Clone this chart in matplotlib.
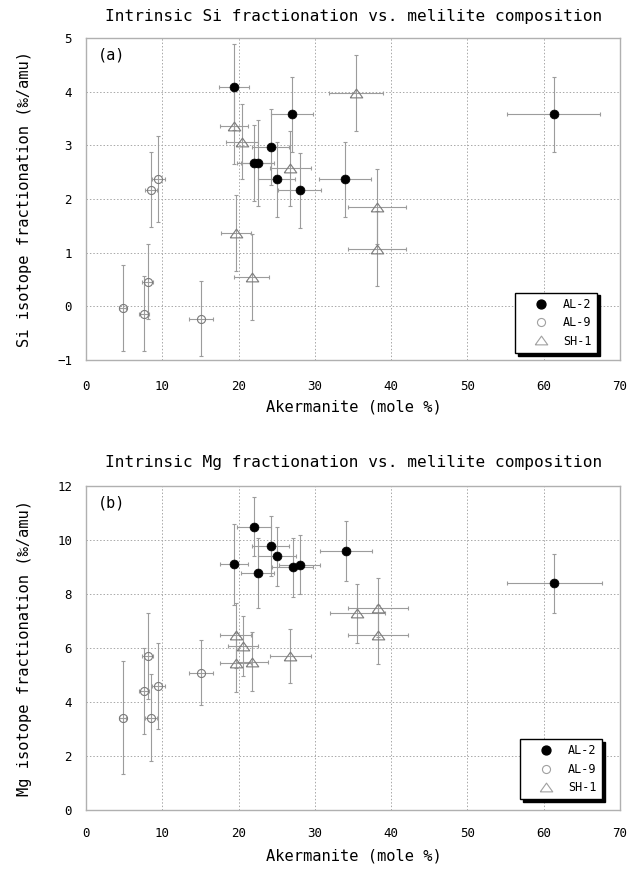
import matplotlib
matplotlib.use("Agg")
import matplotlib.pyplot as plt
from matplotlib.lines import Line2D

plt.rcParams['font.family'] = ['DejaVu Sans Mono', 'DejaVu Sans']

# ---------------- data ----------------
# AL-2
al2_x = [19.4, 27.0, 24.2, 22.0, 22.5, 25.0, 28.0, 34.0, 61.3]
al2_xerr = [2.0, 2.8, 2.4, 2.2, 2.2, 2.45, 2.8, 3.4, 6.1]
al2_si = [4.09, 3.58, 2.97, 2.67, 2.67, 2.37, 2.16, 2.37, 3.58]
al2_si_err = [0.8, 0.7, 0.7, 0.7, 0.8, 0.7, 0.7, 0.7, 0.7]
al2_mg_x = [22.0, 24.2, 25.0, 19.4, 22.5, 27.1, 28.0, 34.1, 61.4]
al2_mg_xerr = [2.2, 2.4, 2.5, 1.9, 2.2, 2.7, 2.7, 3.4, 6.2]
al2_mg = [10.5, 9.78, 9.40, 9.10, 8.79, 8.99, 9.09, 9.59, 8.39]
al2_mg_err = [1.1, 1.1, 1.1, 1.5, 1.3, 1.1, 1.1, 1.1, 1.1]

# AL-9
al9_x = [9.5, 8.55, 8.1, 7.6, 4.8, 15.07]
al9_xerr = [0.9, 0.8, 0.7, 0.7, 0.5, 1.55]
al9_si = [2.37, 2.17, 0.46, -0.14, -0.03, -0.23]
al9_si_err = [0.8, 0.7, 0.7, 0.7, 0.8, 0.7]
al9_mg = [4.60, 3.42, 5.71, 4.40, 3.42, 5.09]
al9_mg_err = [1.6, 1.6, 1.6, 1.6, 2.1, 1.2]

# SH-1
sh1_si_x = [19.4, 20.5, 26.8, 19.66, 21.7, 35.4, 38.1, 38.1]
sh1_si_xerr = [1.9, 2.1, 2.7, 2.0, 2.27, 3.54, 3.8, 3.8]
sh1_si = [3.36, 3.07, 2.57, 1.36, 0.55, 3.97, 1.86, 1.07]
sh1_si_err = [0.7, 0.7, 0.7, 0.71, 0.8, 0.71, 0.7, 0.7]
sh1_mg_x = [19.6, 20.55, 19.6, 21.7, 26.8, 35.55, 38.3, 38.3]
sh1_mg_xerr = [2.0, 2.0, 2.0, 2.1, 2.7, 3.6, 3.9, 3.9]
sh1_mg = [6.47, 6.08, 5.46, 5.49, 5.70, 7.28, 7.49, 6.50]
sh1_mg_err = [1.2, 1.1, 1.1, 1.1, 1.0, 1.1, 1.1, 1.1]

labels = ["AL-2", "AL-9", "SH-1"]
titles = ["Intrinsic Si fractionation vs. melilite composition",
          "Intrinsic Mg fractionation vs. melilite composition"]
ylabels = ["Si isotope fractionation (\u2030/amu)",
           "Mg isotope fractionation (\u2030/amu)"]
xlabel = "Akermanite (mole %)"
panel_tags = ["(a)", "(b)"]

# ---------------- figure ----------------
W, H = 640, 871
fig = plt.figure(figsize=(W / 100, H / 100), dpi=100)

def fx(px):
    return px / W

def fy(py):
    return 1 - py / H

ax1 = fig.add_axes([fx(86), fy(360), fx(620) - fx(86), fy(38) - fy(360)])
ax2 = fig.add_axes([fx(86), fy(810), fx(620) - fx(86), fy(486) - fy(810)])

tri = [(-1, -0.7), (1, -0.7), (0, 0.7), (-1, -0.7)]
ecol = '#9c9c9c'
mcol = '#7a7a7a'

def draw(ax, series, ylim, yticks, xpad):
    for (x, y, xe, ye, kind) in series:
        if kind == 'sh1':
            mk = dict(marker=tri, markersize=9, mfc='none', mec=mcol, mew=0.8)
        elif kind == 'al9':
            mk = dict(marker='o', markersize=5.8, mfc='none', mec=mcol, mew=0.8)
        else:
            mk = dict(marker='o', markersize=6.4, mfc='black', mec='black', mew=0.5)
        ax.errorbar(x, y, xerr=xe, yerr=ye, fmt='none', ecolor=ecol,
                    elinewidth=0.8, capsize=1.3, capthick=0.8, zorder=2)
        ax.plot(x, y, linestyle='none', zorder=3 if kind != 'al2' else 4, **mk)
    ax.set_xlim(0, 70)
    ax.set_ylim(*ylim)
    ax.set_xticks(range(0, 71, 10))
    ax.set_yticks(yticks)
    ax.grid(True, color='#a8a8a8', linestyle=(0, (1.5, 2.0)), linewidth=0.7)
    ax.set_axisbelow(True)
    for s in ax.spines.values():
        s.set_color('#b0b0b0')
        s.set_linewidth(1.0)
    ax.tick_params(axis='both', length=0, labelsize=9)
    ax.tick_params(axis='x', pad=xpad)
    ax.tick_params(axis='y', pad=10)
    handles = [
        Line2D([], [], linestyle='none', marker='o', markersize=6.4, mfc='black', mec='black'),
        Line2D([], [], linestyle='none', marker='o', markersize=5.8, mfc='none', mec='#a0a0a0', mew=0.8),
        Line2D([], [], linestyle='none', marker=tri, markersize=9, mfc='none', mec='#a0a0a0', mew=0.8),
    ]
    return handles

h = draw(ax1,
         [(sh1_si_x, sh1_si, sh1_si_xerr, sh1_si_err, 'sh1'),
          (al9_x, al9_si, al9_xerr, al9_si_err, 'al9'),
          (al2_x, al2_si, al2_xerr, al2_si_err, 'al2')],
         (-1, 5), range(-1, 6), 14.5)
draw(ax2,
     [(sh1_mg_x, sh1_mg, sh1_mg_xerr, sh1_mg_err, 'sh1'),
      (al9_x, al9_mg, al9_xerr, al9_mg_err, 'al9'),
      (al2_mg_x, al2_mg, al2_mg_xerr, al2_mg_err, 'al2')],
     (0, 12), range(0, 13, 2), 12.5)

for ax, anchor in [(ax1, (0.957, 0.022)), (ax2, (0.966, 0.033))]:
    leg = ax.legend(h, labels, loc='lower right', bbox_to_anchor=anchor,
                    fontsize=8.5, frameon=True, fancybox=False, framealpha=1,
                    edgecolor='black', borderpad=0.45, labelspacing=0.45,
                    handlelength=3.4, handletextpad=0.2,
                    borderaxespad=0, shadow={'color': 'black', 'alpha': 1})
    leg.get_frame().set_linewidth(1.0)
    leg.set_zorder(10)

for ax, tag in [(ax1, panel_tags[0]), (ax2, panel_tags[1])]:
    ax.text(0.022, 0.947, tag, transform=ax.transAxes, fontsize=11,
            ha='left', va='center')

# titles and axis labels
fig.text(fx(354), fy(16), titles[0], ha='center', va='center', fontsize=11.6)
fig.text(fx(354), fy(462), titles[1], ha='center', va='center', fontsize=11.6)
fig.text(fx(354), fy(407), xlabel, ha='center', va='center', fontsize=11.1)
fig.text(fx(354), fy(856), xlabel, ha='center', va='center', fontsize=11.1)
fig.text(fx(25), fy(199), ylabels[0], ha='center', va='center', rotation=90, fontsize=11.1)
fig.text(fx(25), fy(648), ylabels[1], ha='center', va='center', rotation=90, fontsize=11.1)

fig.savefig("out.png", dpi=100, facecolor='white')
